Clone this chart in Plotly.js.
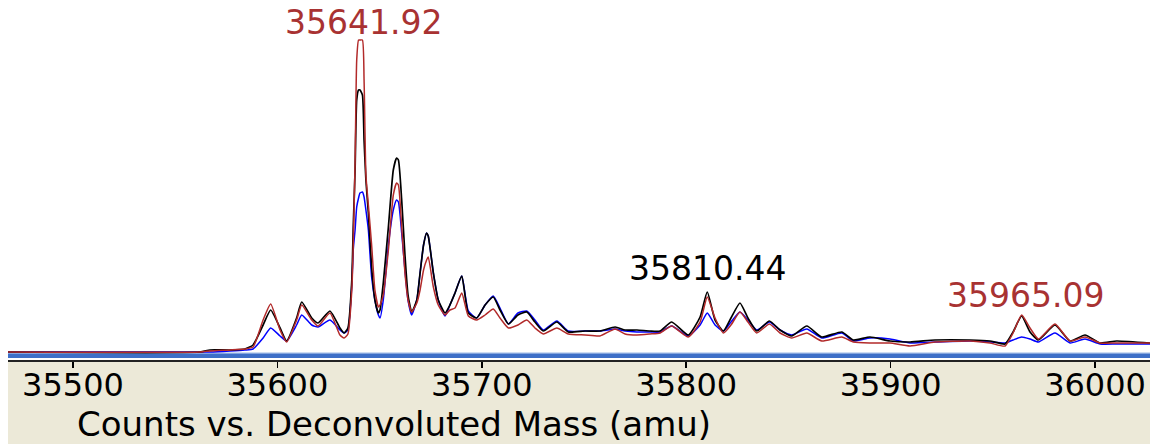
<!DOCTYPE html>
<html>
<head>
<meta charset="utf-8">
<script src="https://cdn.plot.ly/plotly-3.0.1.min.js"></script>
<style>
html,body{margin:0;padding:0;background:#fff;}
#chart{width:1155px;height:444px;}
</style>
</head>
<body>
<div id="chart"></div>
<script>
// Deconvoluted mass (amu)
const mass = [35468.2, 35562.1, 35567.0, 35576.8, 35584.1, 35588.1, 35593.0, 35596.7, 35601.3, 35604.5,
  35609.4, 35611.9, 35616.8, 35619.9, 35625.7, 35630.6, 35632.6, 35634.5, 35636.4, 35637.1,
  35638.0, 35638.8, 35639.7, 35640.4, 35641.6, 35642.4, 35643.3, 35644.5, 35646.1, 35647.7,
  35649.4, 35650.2, 35651.8, 35654.3, 35656.7, 35658.3, 35659.2, 35660.8, 35662.4, 35663.9,
  35665.7, 35668.2, 35669.8, 35671.5, 35673.0, 35673.8, 35676.3, 35678.7, 35682.0, 35684.4,
  35686.9, 35690.2, 35693.4, 35697.5, 35701.6, 35705.6, 35708.9, 35713.0, 35717.7, 35722.0,
  35726.0, 35730.1, 35736.7, 35742.3, 35750.5, 35757.8, 35765.2, 35770.1, 35775.9, 35782.3,
  35787.2, 35792.9, 35801.0, 35806.8, 35810.3, 35814.1, 35818.2, 35821.9, 35826.3, 35830.2,
  35834.5, 35840.7, 35845.9, 35851.6, 35859.0, 35866.3, 35876.1, 35881.8, 35889.9, 35899.7,
  35909.5, 35921.7, 35938.9, 35948.6, 35956.0, 35959.9, 35964.1, 35968.2, 35972.3, 35980.4,
  35987.8, 35995.1, 36002.5, 36010.6, 36026.9];

// Counts (arbitrary units) for the three overlaid spectra
const countsBlack = [0, 0, 2, 2, 3, 7, 27, 42, 24, 11,
  34, 50, 34, 29, 41, 24, 19, 24, 72, 125,
  182, 252, 262, 262, 257, 212, 172, 139, 85, 52,
  39, 42, 69, 125, 182, 194, 192, 152, 97, 57,
  40, 52, 79, 107, 119, 116, 79, 52, 39, 47,
  59, 76, 39, 34, 47, 55, 42, 28, 37, 40,
  30, 21, 30, 20, 21, 21, 25, 22, 22, 21,
  21, 30, 17, 35, 60, 32, 21, 34, 49, 34,
  21, 31, 22, 16, 26, 15, 20, 12, 15, 11,
  10, 12, 12, 11, 8, 20, 36, 20, 12, 27,
  11, 17, 9, 11, 9];

const countsRed = [0, 0, 1, 2, 3, 5, 32, 48, 22, 10,
  32, 47, 32, 26, 39, 17, 14, 18, 62, 107,
  189, 292, 312, 312, 312, 272, 177, 147, 107, 62,
  45, 47, 57, 102, 157, 169, 167, 125, 79, 52,
  40, 49, 62, 82, 92, 95, 65, 47, 37, 42,
  44, 59, 36, 32, 37, 43, 34, 24, 27, 32,
  24, 18, 24, 18, 17, 16, 23, 18, 17, 18,
  19, 26, 15, 30, 55, 34, 19, 27, 40, 30,
  19, 28, 19, 14, 19, 11, 15, 10, 9, 9,
  6, 10, 11, 9, 6, 19, 37, 24, 13, 28,
  11, 15, 9, 9, 9];

const countsBlue = [0, 0, 0, 1, 2, 3, 14, 24, 16, 11,
  27, 37, 27, 25, 32, 22, 19, 22, 67, 102,
  122, 145, 154, 159, 160, 155, 142, 122, 75, 52,
  37, 34, 52, 107, 142, 152, 150, 119, 82, 52,
  37, 52, 79, 107, 119, 116, 79, 52, 36, 47,
  59, 76, 41, 34, 47, 56, 44, 28, 39, 41,
  32, 22, 31, 21, 21, 21, 23, 21, 20, 20,
  20, 26, 16, 27, 39, 27, 21, 30, 40, 32,
  22, 30, 22, 17, 23, 14, 19, 11, 14, 13,
  9, 10, 11, 10, 9, 12, 15, 13, 10, 19,
  9, 13, 8, 8, 8];

const tickValues = [35500, 35600, 35700, 35800, 35900, 36000];
const tickLabels = ["35500", "35600", "35700", "35800", "35900", "36000"];

const peakMasses = [35641.9, 35810.2, 35965.8];
const peakLabels = ["35641.92", "35810.44", "35965.09"];
const peakLabelLevels = [330, 84, 57];
const peakLabelColors = ["#a83232", "#000000", "#a83232"];

const axisTitle = "Counts vs. Deconvoluted Mass (amu)";

const FONT = "DejaVu Sans, Verdana, sans-serif";

const lineShape = {shape: "spline", smoothing: 0.5};

const traces = [
  {x: mass, y: countsBlue, type: "scatter", mode: "lines", line: Object.assign({color: "#0000ff", width: 1.5}, lineShape), hoverinfo: "skip"},
  {x: mass, y: countsBlack, type: "scatter", mode: "lines", line: Object.assign({color: "#000000", width: 1.7}, lineShape), hoverinfo: "skip"},
  {x: mass, y: countsRed, type: "scatter", mode: "lines", line: Object.assign({color: "#b22a2a", width: 1.5}, lineShape), hoverinfo: "skip"}
];

const annotations = peakLabels.map((t, i) => ({
  x: peakMasses[i], y: peakLabelLevels[i], xref: "x", yref: "y",
  text: t, showarrow: false, xanchor: "center", yanchor: "middle",
  font: {family: FONT, size: 33, color: peakLabelColors[i]}
}));
annotations.push({
  x: (75 - 8) / 1142, y: -64 / 360, xref: "paper", yref: "paper",
  text: axisTitle, showarrow: false, xanchor: "left", yanchor: "middle",
  font: {family: FONT, size: 34, color: "#000000"}
});

const layout = {
  width: 1155, height: 444,
  margin: {l: 8, r: 5, t: 0, b: 84, pad: 0},
  paper_bgcolor: "#ffffff",
  plot_bgcolor: "#ffffff",
  showlegend: false,
  xaxis: {
    range: [35468.2, 36026.9],
    tickvals: tickValues, ticktext: tickLabels,
    ticks: "outside", ticklen: 6, tickwidth: 1.5, tickcolor: "#000",
    ticklabelstandoff: -10,
    showline: true, linecolor: "#222", linewidth: 1.5,
    showgrid: false, zeroline: false,
    tickfont: {family: FONT, size: 32, color: "#000"},
    fixedrange: true
  },
  yaxis: {range: [-8, 352], visible: false, showgrid: false, zeroline: false, fixedrange: true},
  shapes: [
    {type: "rect", xref: "paper", yref: "paper", x0: 0, x1: 1, y0: -84 / 360, y1: 0,
     fillcolor: "#ece9d8", line: {width: 0}, layer: "below"},
    {type: "rect", xref: "paper", yref: "y", x0: 0, x1: 1, y0: -6, y1: -1.3,
     fillcolor: "#3d6fc8", line: {width: 0}, layer: "below"},
    {type: "line", xref: "paper", yref: "y", x0: 0, x1: 1, y0: -1, y1: -1,
     line: {color: "#9bb8e6", width: 1}, layer: "below"}
  ],
  annotations: annotations
};

Plotly.newPlot("chart", traces, layout, {staticPlot: true, displayModeBar: false});
</script>
</body>
</html>
